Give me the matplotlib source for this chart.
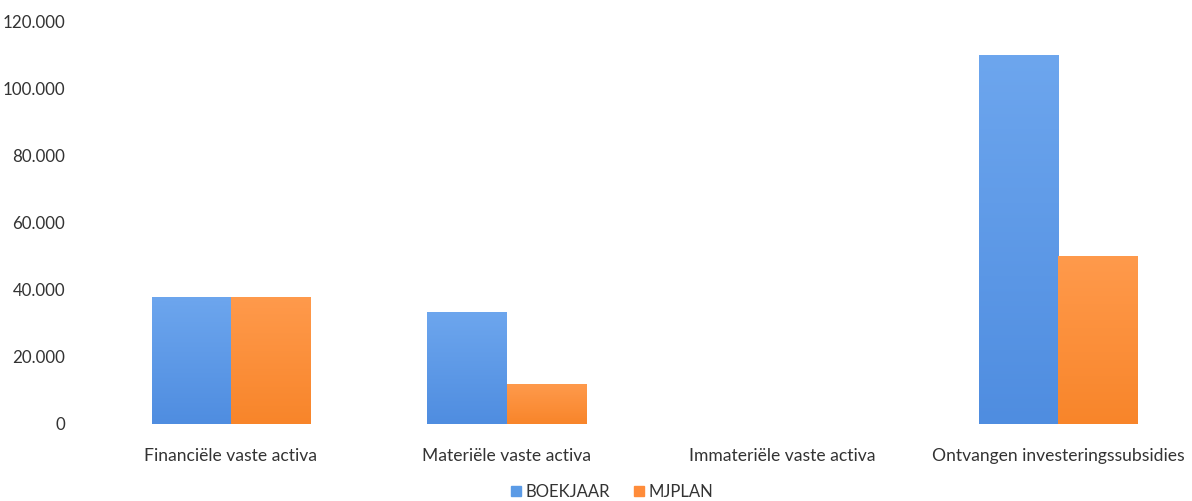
import matplotlib
matplotlib.use("Agg")
import matplotlib.pyplot as plt
import numpy as np
from matplotlib.colors import LinearSegmentedColormap
from matplotlib.patches import Patch
from matplotlib.ticker import FuncFormatter

categories = ["Financiële vaste activa", "Materiële vaste activa",
              "Immateriële vaste activa", "Ontvangen investeringssubsidies"]
boekjaar = [38000, 33300, 0, 110000]
mjplan = [38000, 11800, 0, 50000]
series_names = ["BOEKJAAR", "MJPLAN"]
yticks = [0, 20000, 40000, 60000, 80000, 100000, 120000]

plt.rcParams['font.family'] = ['Lato', 'DejaVu Sans']

W, H = 1192, 501
fig = plt.figure(figsize=(W / 100, H / 100), dpi=100)
ax = fig.add_axes([93 / W, (H - 424) / H, (1196 - 93) / W, (424 - 21.7) / H])

x = np.arange(len(categories))
bw = 0.287
blue_cm = LinearSegmentedColormap.from_list("b", ["#4F8DE0", "#6DA6EE"])
orange_cm = LinearSegmentedColormap.from_list("o", ["#F8852A", "#FF9A4C"])

b1 = ax.bar(x - bw / 2, boekjaar, bw, color="#5B9BE6", zorder=2)
b2 = ax.bar(x + bw / 2, mjplan, bw, color="#FF8C3A", zorder=2)

grad = np.linspace(0, 1, 256).reshape(-1, 1)
for bars, cm in ((b1, blue_cm), (b2, orange_cm)):
    for p in bars:
        h = p.get_height()
        if h <= 0:
            continue
        im = ax.imshow(grad, cmap=cm, origin="lower", aspect="auto",
                       extent=[p.get_x(), p.get_x() + p.get_width(), 0, h],
                       zorder=3)
        im.set_clip_path(p)

ax.set_xlim(-0.5, len(categories) - 0.5)
ax.set_ylim(0, 120000)
ax.set_yticks(yticks)
ax.yaxis.set_major_formatter(FuncFormatter(lambda v, p: f"{int(v):,}".replace(",", ".")))
ax.set_xticks(x)
ax.set_xticklabels(categories)
for s in ax.spines.values():
    s.set_visible(False)
ax.tick_params(axis="y", length=0, pad=20, labelsize=12.2, labelcolor="#333333")
ax.tick_params(axis="x", length=0, pad=17, labelsize=12.6, labelcolor="#333333")

handles = [Patch(color="#5B9BE6"), Patch(color="#FF8C3A")]
fig.legend(handles, series_names, loc="center", bbox_to_anchor=(612 / W, (H - 492) / H),
           ncol=2, frameon=False, fontsize=12, handlelength=0.6, handleheight=0.6,
           handletextpad=0.3, columnspacing=1.4, labelcolor="#333333")

fig.savefig("out.png", dpi=100)
